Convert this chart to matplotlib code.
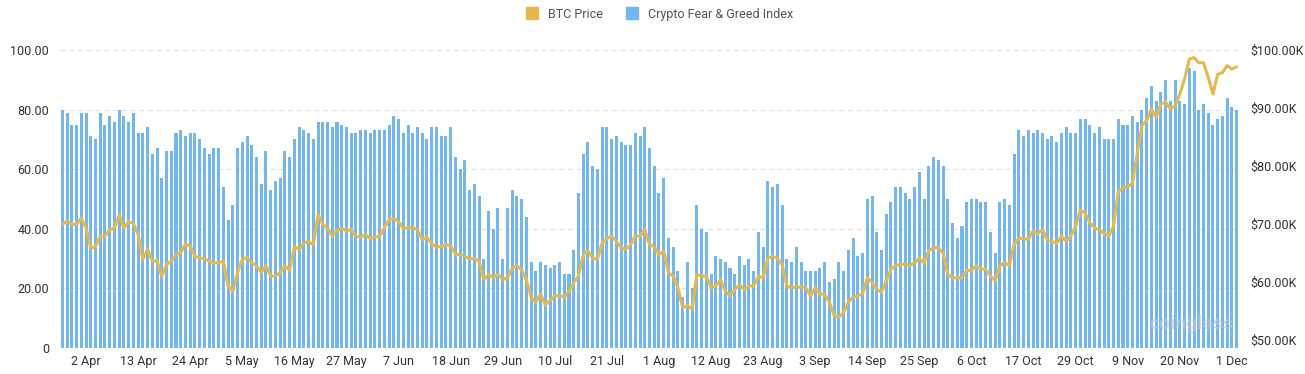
import numpy as np
import pandas as pd
import matplotlib
matplotlib.use('Agg')
import matplotlib.pyplot as plt
from matplotlib.lines import Line2D

plt.rcParams['font.family'] = ['Roboto', 'DejaVu Sans']

# daily values, 28 Mar 2024 - 2 Dec 2024 (one day missing in late Oct, as in the source)
fear_greed = [
    80, 79, 75, 75, 79, 79, 71, 70, 79, 75, 78, 76, 80, 78, 76, 79, 72, 72, 74, 65,
    67, 57, 66, 66, 72, 73, 71, 72, 72, 70, 67, 65, 67, 67, 54, 43, 48, 67, 69, 71,
    68, 64, 55, 66, 53, 56, 57, 66, 64, 70, 74, 73, 72, 70, 76, 76, 76, 74, 76, 75,
    74, 72, 72, 73, 73, 72, 73, 73, 73, 75, 78, 77, 72, 75, 72, 74, 72, 70, 74, 74,
    71, 71, 74, 64, 60, 63, 53, 55, 51, 30, 46, 40, 47, 30, 47, 53, 51, 50, 44, 29,
    26, 29, 28, 27, 28, 29, 25, 25, 33, 52, 65, 69, 61, 60, 74, 74, 70, 71, 69, 68,
    68, 72, 71, 74, 67, 61, 52, 57, 37, 34, 26, 17, 29, 20, 48, 40, 39, 25, 31, 30,
    29, 27, 25, 31, 28, 30, 26, 39, 34, 56, 54, 55, 48, 30, 29, 34, 29, 26, 26, 26,
    27, 29, 22, 23, 29, 26, 33, 37, 31, 32, 50, 51, 39, 33, 45, 49, 54, 54, 52, 50,
    54, 59, 50, 61, 64, 63, 61, 50, 42, 37, 41, 49, 50, 50, 49, 49, 39, 32, 49, 50,
    48, 65, 73, 71, 73, 72, 73, 72, 70, 71, 69, 72, 74, 72, 72, 77, 77, 75, 72, 74,
    70, 70, 70, 77, 75, 75, 78, 76, 80, 84, 88, 83, 86, 90, 83, 90, 83, 82, 94, 93,
    80, 82, 79, 75, 77, 78, 84, 81, 80,
]

# BTC price in thousands of USD
btc_price = [
    69.9, 70.5, 69.9, 69.9, 71.0, 69.3, 65.8, 66.1, 67.9, 67.9, 69.0, 69.3, 71.6, 69.3,
    70.4, 70.1, 68.2, 63.9, 65.6, 63.6, 63.6, 61.0, 63.0, 63.6, 64.7, 65.0, 66.6, 66.2,
    64.4, 64.2, 64.0, 63.6, 63.3, 63.3, 63.6, 59.3, 58.4, 61.6, 63.9, 64.2, 63.3,
    62.8, 61.6, 62.8, 61.0, 61.0, 61.6, 62.8, 62.0, 66.1, 65.6, 66.7, 67.0, 66.4, 71.6,
    69.9, 69.3, 67.9, 68.8, 69.3, 68.8, 69.0, 67.9, 67.7, 68.2, 67.5, 67.7, 67.9, 69.3,
    70.7, 71.0, 70.4, 69.3, 69.3, 69.4, 69.0, 67.3, 67.7, 66.6, 66.0, 66.1, 66.4, 66.3,
    64.8, 64.7, 64.4, 64.0, 64.0, 63.6, 60.4, 61.3, 60.7, 61.3, 60.4, 60.7, 62.4, 62.8,
    62.1, 60.4, 57.3, 56.5, 57.9, 56.0, 56.8, 57.6, 57.6, 57.4, 58.4, 59.9, 61.0, 64.7,
    65.4, 64.1, 63.9, 66.7, 67.5, 67.9, 67.0, 65.9, 65.6, 66.4, 67.9, 67.9, 69.0,
    66.4, 66.1, 64.7, 65.3, 61.6, 61.0, 59.0, 55.6, 55.9, 55.3, 61.3, 61.0, 61.0, 59.0,
    59.3, 60.4, 58.4, 57.6, 58.7, 59.5, 58.7, 59.3, 59.3, 61.0, 60.7, 64.1, 64.4, 64.1,
    63.0, 59.3, 59.0, 59.1, 59.1, 59.0, 57.6, 59.0, 57.9, 57.9, 56.5, 54.2, 53.9,
    54.7, 56.5, 57.4, 57.6, 57.9, 60.7, 59.9, 58.7, 58.2, 60.2, 62.2, 62.8, 63.0, 63.1,
    62.8, 63.3, 64.1, 63.3, 65.4, 65.9, 65.9, 65.0, 61.3, 60.7, 60.7, 60.7, 62.0, 62.0,
    62.8, 62.2, 62.2, 61.0, 60.2, 62.8, 63.3, 62.8, 66.4, 67.5, 67.5, 67.3, 68.8,
    68.4, 69.0, 67.3, 67.0, 66.6, 67.9, 67.0, 67.9, 69.6, 72.4, 71.9, 70.2, 69.3, 69.0,
    68.4, 67.9, 69.6, 75.6, 76.2, 76.4, 77.0, 82.1, 87.0, 87.8, 89.8, 88.4, 90.7, 91.0,
    89.8, 90.4, 92.4, 95.0, 98.4, 98.7, 97.8, 97.8, 95.3, 92.4, 95.8, 96.1, 97.3, 96.7,
    97.1,
]

dates = pd.date_range('2024-03-28', '2024-12-02').drop(pd.Timestamp('2024-10-24'))
tick_idx = list(range(5, len(dates), 11))
tick_labels = [f"{dates[i].day} {dates[i].strftime('%b')}" for i in tick_idx]

left_ticks = [0, 20, 40, 60, 80, 100]
right_ticks = [50, 60, 70, 80, 90, 100]

BLUE = '#74b6ee'
GOLD = '#e6b94e'
TXT = '#333333'

fig = plt.figure(figsize=(13.05, 3.74), dpi=100)
ax = fig.add_axes([60 / 1305, 26 / 374, 1179 / 1305, 298 / 374])
x = np.arange(len(fear_greed))

ax.bar(x, fear_greed, width=0.64, color=BLUE, zorder=2)
ax.set_xlim(-0.5, len(fear_greed) - 0.5)
ax.set_ylim(0, 100)
ax.set_yticks(left_ticks)
ax.set_yticklabels(['0' if t == 0 else f'{t:.2f}' for t in left_ticks])
ax.yaxis.grid(True, linestyle=(0, (4, 3)), color='#e2e2e2', linewidth=0.9, zorder=0)
ax.set_axisbelow(True)
ax.set_xticks(tick_idx)
ax.set_xticklabels(tick_labels)
ax.tick_params(axis='both', length=0, labelsize=9, colors=TXT)
ax.tick_params(axis='y', pad=8)
ax.tick_params(axis='x', pad=5)
for s in ax.spines.values():
    s.set_visible(False)

ax2 = ax.twinx()
ax2.plot(x, btc_price, color=GOLD, linewidth=2.2, solid_joinstyle='round', solid_capstyle='round')
ax2.set_ylim(48.6, 100)
ax2.set_yticks(right_ticks)
ax2.set_yticklabels([f'${t:.2f}K' for t in right_ticks])
ax2.tick_params(axis='y', length=0, labelsize=9, colors=TXT, pad=8)
for s in ax2.spines.values():
    s.set_visible(False)

handles = [
    Line2D([], [], marker='s', linestyle='none', markersize=9, color=GOLD),
    Line2D([], [], marker='s', linestyle='none', markersize=9, color=BLUE),
]
fig.legend(handles, ['BTC Price', 'Crypto Fear & Greed Index'], loc='upper center',
           bbox_to_anchor=(0.503, 1.01), ncol=2, frameon=False, fontsize=9,
           handletextpad=0.3, columnspacing=1.3, labelcolor='#555555')

fig.text(0.913, 0.135, 'coinglass', fontsize=14, fontweight='bold', color='#c8c8c8',
         alpha=0.6, ha='center', va='center')

fig.savefig('out.png', dpi=100)
